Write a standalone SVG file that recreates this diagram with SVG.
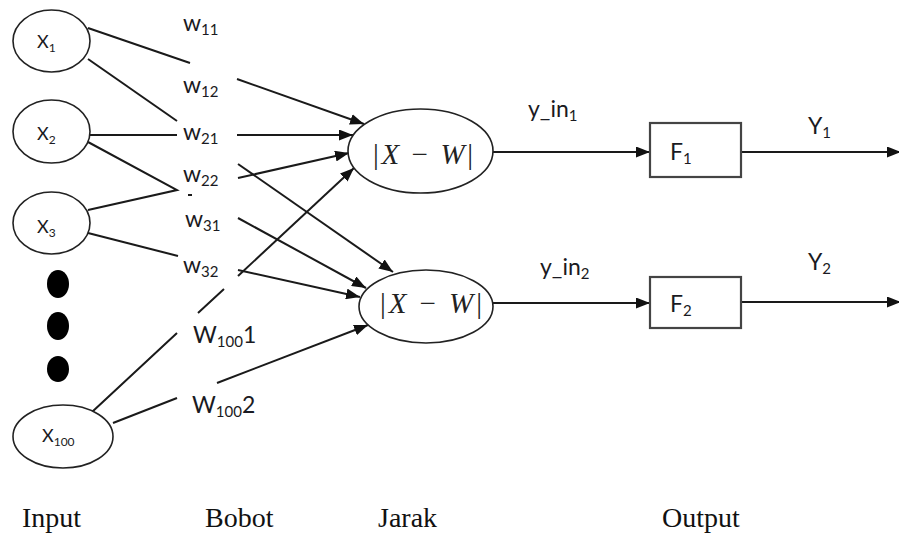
<svg xmlns="http://www.w3.org/2000/svg" width="899" height="535" viewBox="0 0 899 535">
<defs>
<marker id="ah" markerUnits="userSpaceOnUse" markerWidth="15" markerHeight="11" refX="14" refY="5.5" orient="auto">
<path d="M0,0 L14,5.5 L0,11 z" fill="#111"/>
</marker>
<style>
.n{fill:#fff;stroke:#222;stroke-width:1.6}
.box{fill:#fff;stroke:#444;stroke-width:2.2}
.dot{fill:#000}
.c{stroke:#1a1a1a;stroke-width:2;fill:none}
.a{marker-end:url(#ah)}
.l{font-family:Lato,"Open Sans",sans-serif;font-size:23px;fill:#1a1a22}
.xs{font-family:Lato,"Open Sans",sans-serif;font-size:18px;fill:#1a1a22}
.m{font-family:"Liberation Serif",serif;font-size:29px;fill:#222}
.t{font-family:"Liberation Serif",serif;font-size:28px;fill:#111}
</style>
</defs>
<rect width="899" height="535" fill="#fff"/>
<g id="connectors">
<path class="c" d="M88,28 L190,63"/>
<path class="c a" d="M237,79 L364,124"/>
<path class="c" d="M88,59 L177,121"/>
<path class="c a" d="M238,164 L393,272"/>
<path class="c" d="M90,135 L177,135"/>
<path class="c a" d="M237,135 L353,135"/>
<path class="c" d="M88,142 L177,190 L88,210"/>
<path class="c" d="M188,195 L192,195"/>
<path class="c a" d="M238,178 L349,153"/>
<path class="c a" d="M238,218 L366,288"/>
<path class="c" d="M88,233 L178,256"/>
<path class="c a" d="M238,270 L360,297"/>
<path class="c" d="M92,412 L177,333 M198,313 L224,289"/>
<path class="c a" d="M238,276 L354,168"/>
<path class="c" d="M113,423 L177,398"/>
<path class="c a" d="M217,383 L368,325"/>
<path class="c a" d="M493,152 L650,152"/>
<path class="c a" d="M493,303 L650,303"/>
<path class="c a" d="M741,152 L901,152"/>
<path class="c a" d="M741,302 L901,302"/>
</g>
<g id="x1"><ellipse class="n" cx="51.5" cy="41" rx="38.5" ry="31"/><text class="xs" x="37" y="48">X<tspan font-size="12" dy="4">1</tspan></text></g>
<g id="x2"><ellipse class="n" cx="51.5" cy="131.5" rx="38.5" ry="31.5"/><text class="xs" x="37" y="140">X<tspan font-size="12" dy="4">2</tspan></text></g>
<g id="x3"><ellipse class="n" cx="51.5" cy="223" rx="38.5" ry="31"/><text class="xs" x="37" y="233">X<tspan font-size="12" dy="4">3</tspan></text></g>
<g id="dots"><ellipse class="dot" cx="58" cy="284" rx="11" ry="14"/><ellipse class="dot" cx="58" cy="326" rx="11" ry="14"/><ellipse class="dot" cx="58" cy="369" rx="11" ry="13"/></g>
<g id="x100"><ellipse class="n" cx="63" cy="436.5" rx="50" ry="31.5"/><text class="xs" x="42" y="442">X<tspan font-size="12" dy="4">100</tspan></text></g>
<g id="weights">
<text class="l" x="183" y="31">w<tspan font-size="15" dy="4">11</tspan></text>
<text class="l" x="183" y="93">w<tspan font-size="15" dy="4">12</tspan></text>
<text class="l" x="183" y="140">w<tspan font-size="15" dy="4">21</tspan></text>
<text class="l" x="183" y="182">w<tspan font-size="15" dy="4">22</tspan></text>
<text class="l" x="185" y="227">w<tspan font-size="15" dy="4">31</tspan></text>
<text class="l" x="183" y="273">w<tspan font-size="15" dy="4">32</tspan></text>
<text class="l" x="193" y="343">W<tspan font-size="15" dy="4">100</tspan><tspan dy="-4">1</tspan></text>
<text class="l" x="192" y="413">W<tspan font-size="15" dy="4">100</tspan><tspan dy="-4">2</tspan></text>
</g>
<g id="j1"><ellipse class="n" cx="420.5" cy="151" rx="72.5" ry="42"/><text class="m" x="373" y="164" textLength="100" lengthAdjust="spacing">|<tspan font-style="italic">X</tspan> − <tspan font-style="italic">W</tspan>|</text></g>
<g id="j2"><ellipse class="n" cx="426" cy="306.5" rx="67" ry="36.5"/><text class="m" x="380" y="313" textLength="102" lengthAdjust="spacing">|<tspan font-style="italic">X</tspan> − <tspan font-style="italic">W</tspan>|</text></g>
<g id="yin"><text class="l" x="528" y="117">y_in<tspan font-size="15" dy="4">1</tspan></text><text class="l" x="540" y="275">y_in<tspan font-size="15" dy="4">2</tspan></text></g>
<g id="f1"><rect class="box" x="650" y="123" width="91" height="54"/><text class="l" x="670" y="160">F<tspan font-size="15" dy="4">1</tspan></text></g>
<g id="f2"><rect class="box" x="650" y="277" width="91" height="51"/><text class="l" x="670" y="312">F<tspan font-size="15" dy="4">2</tspan></text></g>
<g id="yout"><text class="l" x="808" y="134">Y<tspan font-size="15" dy="4">1</tspan></text><text class="l" x="808" y="270">Y<tspan font-size="15" dy="4">2</tspan></text></g>
<g id="captions">
<text class="t" x="22" y="527">Input</text>
<text class="t" x="205" y="527">Bobot</text>
<text class="t" x="378" y="527">Jarak</text>
<text class="t" x="662" y="527">Output</text>
</g>
</svg>
